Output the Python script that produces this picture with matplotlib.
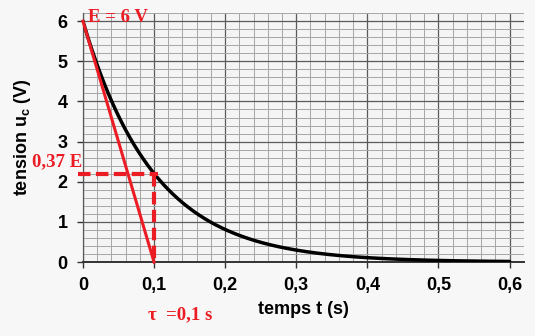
import numpy as np
import matplotlib
matplotlib.use("Agg")
import matplotlib.pyplot as plt
from matplotlib.ticker import MultipleLocator

# Capacitor discharge: u_c(t) = E * exp(-t / tau)
E = 6.0          # V
tau = 0.1        # s
t_end = 0.6      # s
u_tau = 2.2      # V, value read at t = tau (0,37 E)

x_ticks = [0, 0.1, 0.2, 0.3, 0.4, 0.5, 0.6]
x_labels = ["0", "0,1", "0,2", "0,3", "0,4", "0,5", "0,6"]
y_ticks = [0, 1, 2, 3, 4, 5, 6]

red = "#ec1c24"

plt.rcParams["font.family"] = ["Liberation Sans", "DejaVu Sans"]
plt.rcParams["mathtext.fontset"] = "custom"
plt.rcParams["mathtext.bf"] = "Liberation Sans:bold"

fig = plt.figure(figsize=(5.35, 3.36), dpi=100)
fig.patch.set_facecolor("#f7f7f7")
ax = fig.add_axes([0.155, 0.220, 0.824, 0.741])
ax.set_facecolor("#f4f4f4")

ax.set_xlim(0, 0.62)
ax.set_ylim(0, 6.2)

# millimetre-paper style grid
ax.xaxis.set_major_locator(MultipleLocator(0.1))
ax.xaxis.set_minor_locator(MultipleLocator(0.02))
ax.yaxis.set_major_locator(MultipleLocator(1))
ax.yaxis.set_minor_locator(MultipleLocator(0.2))
ax.grid(which="minor", color="#a6a6a6", lw=0.7)
ax.grid(which="major", color="#5a5a5a", lw=0.9)
ax.set_axisbelow(True)
ax.set_xticks(x_ticks)
ax.set_xticklabels(x_labels)
ax.set_yticks(y_ticks)
ax.tick_params(which="minor", length=0)
ax.tick_params(which="major", length=4, width=1, color="#333333",
               labelsize=13, pad=7)
for lab in ax.get_xticklabels() + ax.get_yticklabels():
    lab.set_fontweight("bold")

for side in ("top", "right"):
    ax.spines[side].set_visible(False)
ax.spines["left"].set_color("#5a5a5a")
ax.spines["left"].set_linewidth(0.9)
ax.spines["bottom"].set_color("#333333")
ax.spines["bottom"].set_linewidth(1.4)

ax.set_xlabel("temps t (s)", fontsize=13, fontweight="bold", labelpad=5)
ax.set_ylabel(r"tension u$_\mathbf{c}$ (V)", fontsize=13, fontweight="bold",
              labelpad=18)

# discharge curve
t = np.linspace(0, t_end, 400)
ax.plot(t, E * np.exp(-t / tau), color="black", lw=2.5, zorder=4,
        solid_capstyle="round")

# tangent at the origin
ax.plot([0, tau], [E, 0], color=red, lw=2.2, zorder=5, clip_on=False)

# 0,37 E construction
dash = (0, (3, 1.3))
ax.plot([-0.007, tau + 0.005], [u_tau, u_tau], color=red, lw=3,
        ls=dash, zorder=5, clip_on=False)
ax.plot([tau, tau], [u_tau, 0], color=red, lw=3,
        ls=dash, zorder=5, clip_on=False)

serif = dict(family="Liberation Serif", fontweight="bold", color=red,
             fontsize=13.5)
ax.text(0.007, 5.98, "E = 6 V", ha="left", va="baseline", **serif)
ax.text(-0.001, 2.39, "0,37 E", ha="right", va="baseline", **serif)
fig.text(148 / 535, 1 - 319 / 336, "τ  =0,1 s", ha="left", va="baseline",
         **serif)

fig.savefig("out.png", dpi=100, facecolor=fig.get_facecolor())
